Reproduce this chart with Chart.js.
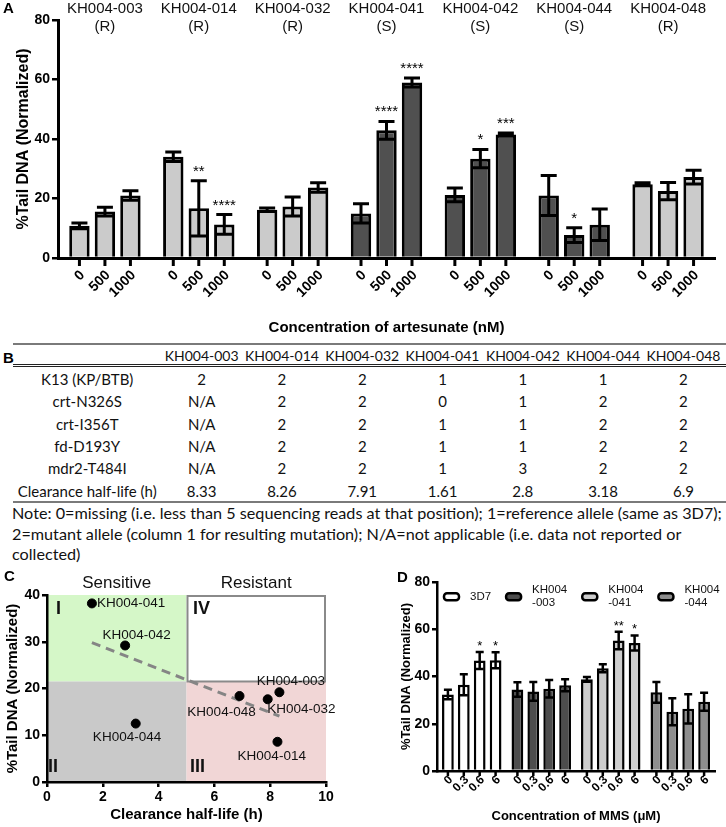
<!DOCTYPE html>
<html><head><meta charset="utf-8">
<script src="https://cdn.jsdelivr.net/npm/chart.js@4.4.1/dist/chart.umd.min.js"></script>
<style>
html,body{margin:0;padding:0;background:#fff;}
#page{position:relative;width:726px;height:827px;overflow:hidden;background:#fff;}
canvas{position:absolute;}
#cA{left:0;top:0;}
#cC{left:0;top:565px;}
#cD{left:370px;top:565px;}
.plabel{position:absolute;font:bold 15px "Liberation Sans",Arial,sans-serif;color:#000;}
.hline{position:absolute;left:13px;width:713px;}
.trow{position:absolute;left:13px;display:flex;font:15px Lato,"Open Sans",sans-serif;color:#111;white-space:nowrap;}
.trow.head{font-size:14px;}
.trow div{flex:none;text-align:center;}
#note{position:absolute;left:12px;top:503px;font:16.2px Lato,"Open Sans",sans-serif;color:#111;line-height:20.5px;white-space:nowrap;}
</style>
</head>
<body>
<div id="page">
  <canvas id="cA" width="726" height="337"></canvas>
  <div class="plabel" style="left:3px;top:349px;">B</div>
  <div id="tableB"></div>
  <div id="note">Note: 0=missing (i.e. less than 5 sequencing reads at that position); 1=reference allele (same as 3D7);<br>2=mutant allele (column 1 for resulting mutation); N/A=not applicable (i.e. data not reported or<br>collected)</div>
  <canvas id="cC" width="370" height="262"></canvas>
  <canvas id="cD" width="356" height="262"></canvas>
</div>
<script>
// ---------------- DATA ----------------
// Panel A
const strainsA = ['KH004-003','KH004-014','KH004-032','KH004-041','KH004-042','KH004-044','KH004-048'];
const phenotypeA = ['R','R','R','S','S','S','R'];
const concA = ['0','500','1000'];
const tail0    = [10.8, 34.0, 16.2, 15.0, 21.2, 21.0, 24.8];
const tail500  = [15.6, 16.7, 17.3, 42.9, 33.4,  7.7, 22.5];
const tail1000 = [21.0, 11.3, 23.7, 59.0, 41.5, 11.2, 27.2];
const err0     = [1.0, 1.6, 0.6, 3.2, 2.3, 6.7, 0.5];
const err500   = [1.5, 9.3, 3.2, 3.0, 3.1, 2.5, 2.9];
const err1000  = [1.6, 3.3, 1.6, 1.5, 0.5, 5.3, 2.3];
const sig0     = ['','','','','','',''];
const sig500   = ['','**','','****','*','*',''];
const sig1000  = ['','****','','****','***','',''];
const yTicksA  = [0, 20, 40, 60, 80];

// Panel B (table)
const rowLabelsB = ['K13 (KP/BTB)','crt-N326S','crt-I356T','fd-D193Y','mdr2-T484I','Clearance half-life (h)'];
const k13       = ['2','2','2','1','1','1','2'];
const crtN326S  = ['N/A','2','2','0','1','2','2'];
const crtI356T  = ['N/A','2','2','1','1','2','2'];
const fdD193Y   = ['N/A','2','2','1','1','2','2'];
const mdr2T484I = ['N/A','2','2','1','3','2','2'];
const clearanceHalfLife = [8.33, 8.26, 7.91, 1.61, 2.8, 3.18, 6.9];

// Panel C (same strain order as table)
const tailC = [19.2, 8.6, 17.7, 38.2, 29.2, 12.5, 18.4];
const trendX = [1.61, 8.33];
const trendY = [29.8, 14.1];
const halfLifeCut = 5;
const tailCut = 21.5;
const zoneNames = ['Sensitive','Resistant'];

// Panel D
const strainsD = ['3D7','KH004-003','KH004-041','KH004-044'];
const legendD  = [['3D7'],['KH004','-003'],['KH004','-041'],['KH004','-044']];
const concD = ['0','0.3','0.6','6'];
const mms0  = [32.4, 34.5, 38.8, 33.3];
const mms03 = [36.5, 33.7, 43.5, 25.1];
const mms06 = [46.8, 34.8, 55.2, 26.3];
const mms6  = [46.9, 36.3, 54.2, 29.3];
const errD0  = [2.0, 3.1, 1.0, 4.4];
const errD03 = [4.4, 4.0, 1.7, 5.7];
const errD06 = [3.6, 3.7, 3.7, 6.2];
const errD6  = [3.4, 2.5, 3.2, 3.8];
const sigD0  = ['','','',''];
const sigD03 = ['','','',''];
const sigD06 = ['*','','**',''];
const sigD6  = ['*','','*',''];

// ---------------- COMMON ----------------
const FONT = '"Liberation Sans", Arial, sans-serif';
Chart.defaults.font.family = FONT;
Chart.defaults.color = '#000';
Chart.defaults.animation = false;

function yAxis(o) {
  return {
    min: o.min, max: o.max,
    ticks: {stepSize: o.step, font: {size: o.tickSize, weight: 'bold'}, color: '#000', padding: o.tickPad},
    grid: {display: true, drawOnChartArea: false, drawTicks: true, tickLength: o.tickLen, color: '#000', lineWidth: o.lw},
    border: {display: true, color: '#000', width: o.bw, z: 1},
    title: {display: true, text: o.title, font: {size: o.titleSize, weight: 'bold'}, color: '#000', padding: {top: o.titlePad, bottom: 0}},
    afterFit(s) { s.width = o.width; }
  };
}

const errorBarPlugin = {
  id: 'errbars',
  afterDatasetsDraw(chart, args, opts) {
    const {ctx} = chart; const y = chart.scales.y;
    chart.data.datasets.forEach((ds, di) => {
      const meta = chart.getDatasetMeta(di);
      meta.data.forEach((bar, i) => {
        const v = ds.data[i], e = ds.err[i];
        const yt = y.getPixelForValue(v + e), yb = y.getPixelForValue(v - e);
        ctx.save();
        ctx.strokeStyle = '#000'; ctx.lineWidth = opts.lw;
        ctx.beginPath();
        ctx.moveTo(bar.x, yt); ctx.lineTo(bar.x, yb);
        ctx.moveTo(bar.x - opts.cap, yt); ctx.lineTo(bar.x + opts.cap, yt);
        ctx.moveTo(bar.x - opts.cap, yb); ctx.lineTo(bar.x + opts.cap, yb);
        ctx.stroke();
        if (ds.sig && ds.sig[i]) {
          ctx.font = opts.sigFont; ctx.fillStyle = '#000';
          ctx.textAlign = 'center'; ctx.textBaseline = 'alphabetic';
          ctx.fillText(ds.sig[i], bar.x, yt - opts.sigGap);
        }
        ctx.restore();
      });
    });
  }
};

const barTicksPlugin = {
  id: 'barticks',
  afterDraw(chart, args, opts) {
    const {ctx} = chart; const base = chart.chartArea.bottom;
    chart.data.datasets.forEach((ds, di) => {
      chart.getDatasetMeta(di).data.forEach(bar => {
        ctx.save();
        ctx.strokeStyle = '#000'; ctx.lineWidth = opts.lw;
        ctx.beginPath(); ctx.moveTo(bar.x, base); ctx.lineTo(bar.x, base + opts.len); ctx.stroke();
        ctx.translate(bar.x + opts.dx, base + opts.dy);
        ctx.rotate(-Math.PI / 4);
        ctx.font = opts.font; ctx.fillStyle = '#000';
        ctx.textAlign = 'right'; ctx.textBaseline = 'middle';
        ctx.fillText(ds.label, 0, 0);
        ctx.restore();
      });
    });
  }
};

const panelLabelPlugin = {
  id: 'panellabel',
  afterDraw(chart, args, opts) {
    const {ctx} = chart;
    ctx.save(); ctx.font = 'bold 15px ' + FONT; ctx.fillStyle = '#000';
    ctx.textAlign = 'left'; ctx.textBaseline = 'middle';
    ctx.fillText(opts.text, opts.x, opts.y); ctx.restore();
  }
};

// ---------------- PANEL A ----------------
const groupColorsA = phenotypeA.map(p => p === 'S' ? '#505050' : '#cbcbcb');
const groupHeaderPlugin = {
  id: 'groupheaders',
  afterDraw(chart) {
    const {ctx} = chart; const x = chart.scales.x;
    ctx.save(); ctx.font = '15px ' + FONT; ctx.fillStyle = '#111';
    ctx.textAlign = 'center'; ctx.textBaseline = 'middle';
    strainsA.forEach((s, i) => {
      const px = x.getPixelForValue(i);
      ctx.fillText(s, px, 9);
      ctx.fillText('(' + phenotypeA[i] + ')', px, 26.5);
    });
    ctx.restore();
  }
};
const aSeries = [[tail0, err0, sig0], [tail500, err500, sig500], [tail1000, err1000, sig1000]];
new Chart(document.getElementById('cA'), {
  type: 'bar',
  data: {
    labels: strainsA,
    datasets: aSeries.map((s, k) => ({
      label: concA[k], data: s[0], err: s[1], sig: s[2],
      backgroundColor: groupColorsA, borderColor: '#000', borderWidth: 3,
      categoryPercentage: 0.815, barPercentage: 0.8
    }))
  },
  options: {
    responsive: false, devicePixelRatio: 1,
    layout: {padding: {left: 0, right: 11, top: 20, bottom: 0}},
    plugins: {
      legend: {display: false}, tooltip: {enabled: false},
      errbars: {lw: 3, cap: 8, sigFont: '15px ' + FONT, sigGap: 5},
      barticks: {lw: 3, len: 8, dx: 3, dy: 15, font: 'bold 14px ' + FONT},
      panellabel: {text: 'A', x: 3, y: 9}
    },
    scales: {
      x: {
        ticks: {display: false}, grid: {display: false},
        border: {display: true, color: '#000', width: 3, z: 1},
        title: {display: true, text: 'Concentration of artesunate (nM)', font: {size: 15, weight: 'bold'}, color: '#000', padding: {top: 0, bottom: 0}},
        afterFit(s) { s.height = 79; }
      },
      y: Object.assign(yAxis({min: 0, max: 80, step: 20, tickSize: 14, tickPad: 2, tickLen: 6, lw: 2.5, bw: 3,
        title: '%Tail DNA (Normalized)', titleSize: 16, titlePad: 14, width: 58}),
        {afterBuildTicks(s) { s.ticks = yTicksA.map(v => ({value: v})); }})
    }
  },
  plugins: [errorBarPlugin, barTicksPlugin, groupHeaderPlugin, panelLabelPlugin]
});

// ---------------- PANEL B (table) ----------------
(function buildTable() {
  const host = document.getElementById('tableB');
  const colW = [148.5].concat(strainsA.map(() => 80.3));
  const rows = [k13, crtN326S, crtI356T, fdD193Y, mdr2T484I, clearanceHalfLife.map(String)];
  function addRow(cells, top, h, cls) {
    const r = document.createElement('div');
    r.className = 'trow' + (cls ? ' ' + cls : ''); r.style.top = top + 'px'; r.style.height = h + 'px'; r.style.lineHeight = h + 'px';
    cells.forEach((c, i) => { const d = document.createElement('div'); d.style.width = colW[i] + 'px'; d.textContent = c; r.appendChild(d); });
    host.appendChild(r);
  }
  function addLine(top, css) { const l = document.createElement('div'); l.className = 'hline'; l.style.top = top + 'px'; l.style.cssText += css; host.appendChild(l); }
  addLine(343, 'height:1.5px;background:#7a7a7a;');
  addRow([''].concat(strainsA), 346, 20, 'head');
  addLine(364, 'height:0;border-top:3px double #222;');
  rows.forEach((vals, i) => addRow([rowLabelsB[i]].concat(vals), 368 + 22.3 * i, 22.3));
  addLine(501, 'height:1.5px;background:#7a7a7a;');
})();

// ---------------- PANEL C ----------------
const labelPosC = {
  'KH004-003': [11.5, -11], 'KH004-014': [-5.7, 14], 'KH004-032': [33.7, 9.7], 'KH004-041': [39.3, 0],
  'KH004-042': [11.5, -10], 'KH004-044': [-8.7, 14], 'KH004-048': [-18, 16]
};
const quadrantPlugin = {
  id: 'quadrants',
  beforeDatasetsDraw(chart) {
    const {ctx} = chart; const x = chart.scales.x, y = chart.scales.y;
    const x0 = x.getPixelForValue(x.min), xc = x.getPixelForValue(halfLifeCut), x1 = x.getPixelForValue(x.max);
    const y0 = y.getPixelForValue(y.min), yc = y.getPixelForValue(tailCut), y1 = y.getPixelForValue(y.max);
    ctx.save();
    ctx.fillStyle = '#d5f7c8'; ctx.fillRect(x0, y1, xc - x0, yc - y1);
    ctx.fillStyle = '#c9c9c9'; ctx.fillRect(x0, yc, xc - x0, y0 - yc);
    ctx.fillStyle = '#f1d6d6'; ctx.fillRect(xc, yc, x1 - xc, y0 - yc);
    ctx.fillStyle = '#ffffff'; ctx.fillRect(xc, y1, x1 - xc, yc - y1);
    ctx.strokeStyle = '#8a8a8a'; ctx.lineWidth = 2;
    ctx.strokeRect(xc + 1, y1 + 1, x1 - xc - 2, yc - y1 - 1);
    ctx.restore();
  },
  afterDatasetsDraw(chart) {
    const {ctx} = chart; const meta = chart.getDatasetMeta(1);
    ctx.save(); ctx.font = '13.5px ' + FONT; ctx.fillStyle = '#111';
    ctx.textAlign = 'center'; ctx.textBaseline = 'middle';
    meta.data.forEach((pt, i) => { const o = labelPosC[strainsA[i]]; ctx.fillText(strainsA[i], pt.x + o[0], pt.y + o[1]); });
    ctx.restore();
  },
  afterDraw(chart) {
    const {ctx} = chart; const x = chart.scales.x; const a = chart.chartArea;
    const xc = x.getPixelForValue(halfLifeCut);
    ctx.save();
    ctx.font = '17px ' + FONT; ctx.fillStyle = '#111'; ctx.textAlign = 'center'; ctx.textBaseline = 'middle';
    ctx.fillText(zoneNames[0], (a.left + xc) / 2, 18);
    ctx.fillText(zoneNames[1], (xc + a.right) / 2, 18);
    ctx.font = 'bold 18px ' + FONT; ctx.fillStyle = '#111';
    ctx.fillText('I', a.left + 11.5, a.top + 14);
    ctx.fillText('IV', xc + 15, a.top + 14);
    ctx.fillText('II', a.left + 6, a.bottom - 15);
    ctx.fillText('III', xc + 11, a.bottom - 15);
    ctx.restore();
  }
};
new Chart(document.getElementById('cC'), {
  type: 'scatter',
  data: {
    datasets: [
      {type: 'line', data: trendX.map((v, i) => ({x: v, y: trendY[i]})), borderColor: '#858585', borderWidth: 3,
       borderDash: [9, 6], pointRadius: 0, fill: false, order: 2},
      {type: 'scatter', data: clearanceHalfLife.map((v, i) => ({x: v, y: tailC[i]})), backgroundColor: '#000',
       borderColor: '#000', pointRadius: 4.5, order: 1}
    ]
  },
  options: {
    responsive: false, devicePixelRatio: 1,
    layout: {padding: {left: 0, right: 44, top: 30, bottom: 0}},
    plugins: {legend: {display: false}, tooltip: {enabled: false}, panellabel: {text: 'C', x: 4, y: 12}},
    scales: {
      x: {
        type: 'linear', min: 0, max: 10,
        ticks: {stepSize: 2, font: {size: 14, weight: 'bold'}, color: '#000', padding: 2},
        grid: {display: true, drawOnChartArea: false, drawTicks: true, tickLength: 5, color: '#000', lineWidth: 2.5},
        border: {display: true, color: '#000', width: 2.5, z: 1},
        title: {display: true, text: 'Clearance half-life (h)', font: {size: 15, weight: 'bold'}, color: '#000', padding: {top: 0, bottom: 3}},
        afterFit(s) { s.height = 45; }
      },
      y: yAxis({min: 0, max: 40, step: 10, tickSize: 14, tickPad: 2, tickLen: 5, lw: 2.5, bw: 2.5,
        title: '%Tail DNA (Normalized)', titleSize: 15, titlePad: 4, width: 47})
    }
  },
  plugins: [quadrantPlugin, panelLabelPlugin]
});

// ---------------- PANEL D ----------------
const strainColorsD = ['#ffffff', '#4d4d4d', '#cdcdcd', '#8e8e8e'];
const legendPluginD = {
  id: 'legendd',
  afterDraw(chart) {
    const {ctx} = chart; const a = chart.chartArea;
    let x = a.left + 6; const yc = 31.7;
    ctx.save(); ctx.font = '11.5px ' + FONT;
    legendD.forEach((lines, i) => {
      ctx.fillStyle = strainColorsD[i]; ctx.strokeStyle = '#000'; ctx.lineWidth = 2.5;
      ctx.beginPath(); ctx.roundRect(x + 1, yc - 3.5, 15, 7, 3); ctx.fill(); ctx.stroke();
      ctx.fillStyle = '#111'; ctx.textAlign = 'left'; ctx.textBaseline = 'middle';
      const tx = x + 27;
      let w = 0;
      lines.forEach((t, k) => {
        const ty = lines.length === 1 ? yc : yc - 6.5 + 13 * k;
        ctx.fillText(t, tx, ty); w = Math.max(w, ctx.measureText(t).width);
      });
      x = tx + w + 14;
    });
    ctx.restore();
  }
};
const dSeries = [[mms0, errD0, sigD0], [mms03, errD03, sigD03], [mms06, errD06, sigD06], [mms6, errD6, sigD6]];
new Chart(document.getElementById('cD'), {
  type: 'bar',
  data: {
    labels: strainsD,
    datasets: dSeries.map((s, k) => ({
      label: concD[k], data: s[0], err: s[1], sig: s[2],
      backgroundColor: strainColorsD, borderColor: '#000', borderWidth: 2.5,
      categoryPercentage: 0.915, barPercentage: 0.74
    }))
  },
  options: {
    responsive: false, devicePixelRatio: 1,
    layout: {padding: {left: 0, right: 11, top: 17, bottom: 0}},
    plugins: {
      legend: {display: false}, tooltip: {enabled: false},
      errbars: {lw: 2.5, cap: 4, sigFont: '13px ' + FONT, sigGap: 2},
      barticks: {lw: 2.5, len: 5, dx: 3, dy: 7, font: 'bold 12px ' + FONT},
      panellabel: {text: 'D', x: 27, y: 13}
    },
    scales: {
      x: {
        ticks: {display: false}, grid: {display: false},
        border: {display: true, color: '#000', width: 2.5, z: 1},
        title: {display: true, text: 'Concentration of MMS (μM)', font: {size: 13, weight: 'bold'}, color: '#000', padding: {top: 0, bottom: 3}},
        afterFit(s) { s.height = 56; }
      },
      y: yAxis({min: 0, max: 80, step: 20, tickSize: 14, tickPad: 2, tickLen: 5, lw: 2.5, bw: 2.5,
        title: '%Tail DNA (Normalized)', titleSize: 13, titlePad: 29, width: 67})
    }
  },
  plugins: [errorBarPlugin, barTicksPlugin, legendPluginD, panelLabelPlugin]
});
</script>
</body></html>
